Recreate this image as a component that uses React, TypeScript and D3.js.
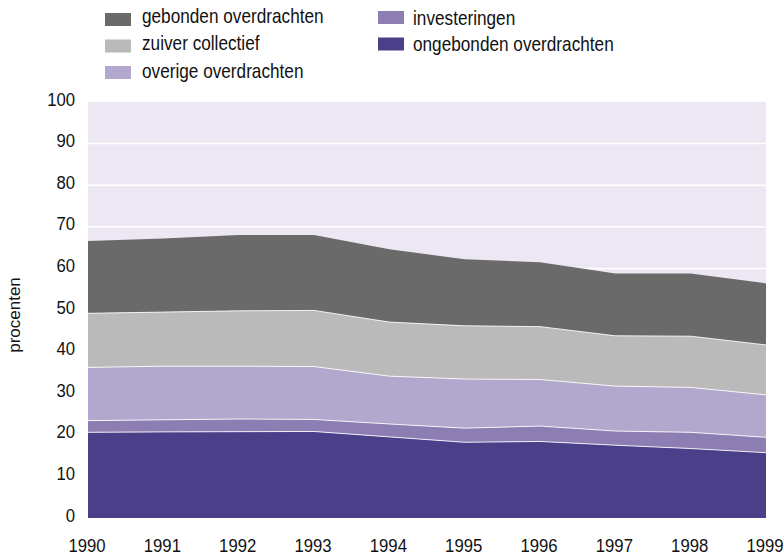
import * as d3 from "d3";

const years = [1990, 1991, 1992, 1993, 1994, 1995, 1996, 1997, 1998, 1999];
const ongebonden = [20.6, 20.7, 20.75, 20.8, 19.5, 18.2, 18.4, 17.5, 16.7, 15.7];
const investeringen = [2.8, 2.9, 3.05, 2.9, 3.1, 3.4, 3.7, 3.4, 3.9, 3.7];
const overige = [12.8, 12.9, 12.7, 12.7, 11.5, 11.8, 11.2, 10.8, 10.8, 10.2];
const zuiver = [13.0, 13.0, 13.3, 13.5, 13.0, 12.8, 12.7, 12.1, 12.3, 12.0];
const gebonden = [17.4, 17.7, 18.2, 18.1, 17.5, 16.0, 15.5, 15.0, 15.1, 14.8];
const yTicks = [0, 10, 20, 30, 40, 50, 60, 70, 80, 90, 100];

const series = [
  { key: "ongebonden", label: "ongebonden overdrachten", values: ongebonden, color: "#4c3f8a" },
  { key: "investeringen", label: "investeringen", values: investeringen, color: "#8c7eb3" },
  { key: "overige", label: "overige overdrachten", values: overige, color: "#b2a7cc" },
  { key: "zuiver", label: "zuiver collectief", values: zuiver, color: "#bababa" },
  { key: "gebonden", label: "gebonden overdrachten", values: gebonden, color: "#6a6a6a" },
];

// legend: two columns, as in the picture
const legendCol1 = ["gebonden", "zuiver", "overige"];
const legendCol2 = ["investeringen", "ongebonden"];

const W = 784, H = 557;
const M = { left: 88, right: 18, top: 102, bottom: 39 };

// the original type is tall and narrow
function T({ x, y, anchor = "start", fs = 19, sx = 0.88, children }: { x: number; y: number; anchor?: string; fs?: number; sx?: number; children: any }) {
  return (
    <text transform={`translate(${x},${y}) scale(${sx},1)`} textAnchor={anchor} fontSize={fs} fill="#111">
      {children}
    </text>
  );
}

export default function App() {
  const x = d3.scaleLinear().domain([1990, 1999]).range([M.left, W - M.right]);
  const y = d3.scaleLinear().domain([0, 100]).range([H - M.bottom, M.top]);

  const table = years.map((yr, i) => {
    const row: Record<string, number> = { year: yr };
    series.forEach((s) => (row[s.key] = s.values[i]));
    return row;
  });
  const stacked = d3.stack<Record<string, number>>().keys(series.map((s) => s.key))(table);
  const area = d3
    .area<d3.SeriesPoint<Record<string, number>>>()
    .x((d) => x(d.data.year))
    .y0((d) => y(d[0]))
    .y1((d) => y(d[1]));
  const topLine = d3
    .line<d3.SeriesPoint<Record<string, number>>>()
    .x((d) => x(d.data.year))
    .y((d) => y(d[1]));

  const byKey = (k: string) => series.find((s) => s.key === k)!;

  return (
    <svg width={W} height={H} style={{ position: "absolute", left: 0, top: 0, fontFamily: "'Liberation Sans', Arial, sans-serif" }}>
      <rect x={M.left} y={M.top} width={W - M.left - M.right} height={H - M.top - M.bottom} fill="#ece7f2" />
      {yTicks.slice(1, -1).map((t) => (
        <line key={t} x1={M.left} x2={W - M.right} y1={y(t)} y2={y(t)} stroke="#fff" strokeWidth={1.5} />
      ))}
      {stacked.map((layer, i) => (
        <path key={layer.key} d={area(layer) ?? ""} fill={series[i].color} />
      ))}
      {stacked.slice(0, -1).map((layer) => (
        <path key={"l" + layer.key} d={topLine(layer) ?? ""} fill="none" stroke="#fff" strokeOpacity={0.85} strokeWidth={1} />
      ))}
      {yTicks.map((t) => (
        <T key={t} x={M.left - 13} y={y(t) + 3.5} anchor="end">
          {t}
        </T>
      ))}
      {years.map((yr) => (
        <T key={yr} x={x(yr) - 1} y={H - 5} anchor="middle">
          {yr}
        </T>
      ))}
      <text transform="translate(19.5,315) rotate(-90) scale(1,0.94)" textAnchor="middle" fontSize={17} fill="#111">
        procenten
      </text>
      {legendCol1.map((k, i) => (
        <g key={k}>
          <rect x={105} y={13 + i * 26.5} width={26} height={13} fill={byKey(k).color} />
          <T x={142} y={22.5 + i * 27.5} fs={20} sx={0.86}>{byKey(k).label}</T>
        </g>
      ))}
      {legendCol2.map((k, i) => (
        <g key={k}>
          <rect x={378} y={11 + i * 26.5} width={26} height={13} fill={byKey(k).color} />
          <T x={413} y={24.5 + i * 26.5} fs={20} sx={0.86}>{byKey(k).label}</T>
        </g>
      ))}
    </svg>
  );
}
